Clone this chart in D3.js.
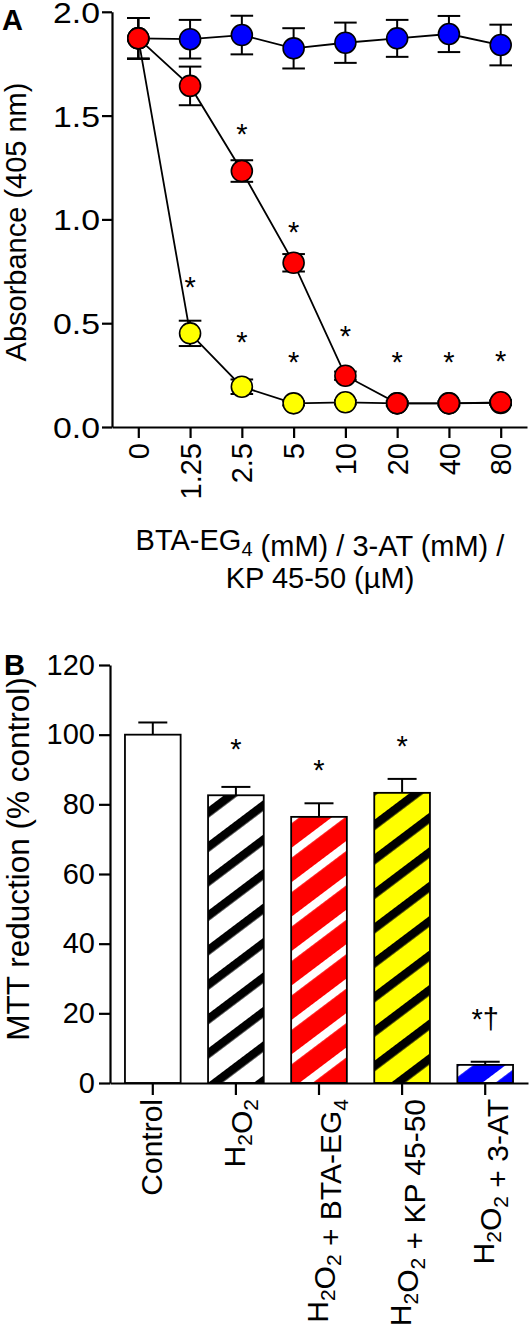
<!DOCTYPE html>
<html><head><meta charset="utf-8">
<script src="https://cdn.jsdelivr.net/npm/d3@7"></script>
<style>
body{margin:0;background:#fff}
svg{display:block}
text{font-family:"Liberation Sans", Arial, Helvetica, sans-serif; fill:#000}
</style>
</head><body>
<svg id="c" width="530" height="1330"></svg>
<script>
// ---------- Panel A data ----------
const concentrations = ["0","1.25","2.5","5","10","20","40","80"];
const blueMeans   = [1.872,1.868,1.888,1.824,1.851,1.872,1.893,1.840];
const blueErr     = [0.098,0.093,0.093,0.097,0.097,0.089,0.087,0.098];
const redMeans    = [1.872,1.643,1.233,0.791,0.247,0.114,0.114,0.119];
const redErr      = [0.098,0.093,0.052,0.042,0.020,0.010,0.010,0.010];
const yellowMeans = [1.872,0.451,0.194,0.114,0.119,0.114,0.114,0.116];
const yellowErr   = [0.098,0.061,0.035,0.010,0.010,0.010,0.010,0.010];
const aTicks = [0,0.5,1.0,1.5,2.0];
const aStarX = ["2.5","5","10","1.25","2.5","5","20","40","80"];
const aStarY = [1.446,0.973,0.475,0.708,0.443,0.347,0.347,0.347,0.355];

// ---------- Panel B data ----------
const groups   = ["Control","H_2O_2","H_2O_2 + BTA-EG_4","H_2O_2 + KP 45-50","H_2O_2 + 3-AT"];
const mttMeans = [100,82.6,76.4,83.3,5.2];
const mttErr   = [3.5,2.4,3.9,4.0,0.9];
const mttMarks = ["","*","*","*","*†"];
const mttMarkY = [null,97.9,91.9,98.9,20.5];
const bTicks   = [0,20,40,60,80,100,120];

const svg = d3.select("#c");
const FS = 29;

function rich(sel, str, subSize){
  const parts = str.split(/_(\d)/);
  parts.forEach((p,i)=>{
    if(p==="") return;
    if(i%2===1){
      sel.append("tspan").attr("font-size",subSize).attr("dy","0.32em").text(p);
      sel.append("tspan").attr("dy","-0.32em").text("");
    } else {
      sel.append("tspan").text(p);
    }
  });
}

// ---------- patterns ----------
const defs = svg.append("defs");
function stripe(id,bg,fg,period,thick){
  const p = defs.append("pattern").attr("id",id).attr("patternUnits","userSpaceOnUse")
    .attr("width",period).attr("height",period).attr("patternTransform","rotate(-37)");
  p.append("rect").attr("width",period).attr("height",period).attr("fill",bg);
  p.append("rect").attr("y",0).attr("width",period).attr("height",thick).attr("fill",fg);
}
stripe("pH","#ffffff","#000000",27.5,8.5);
stripe("pR","#ff0000","#ffffff",27.5,8);
stripe("pY","#ffff00","#000000",27.5,8.5);
stripe("pB","#0000ff","#ffffff",27.5,8);
const barFills = ["#ffffff","url(#pH)","url(#pR)","url(#pY)","url(#pB)"];

// ================= Panel A =================
const xA = d3.scalePoint().domain(concentrations).range([112,527]).padding(0.508);
const yA = d3.scaleLinear().domain([0,2]).range([427,11.8]);

const axYA = svg.append("g").attr("transform","translate(112,0)")
  .call(d3.axisLeft(yA).tickValues(aTicks).tickFormat(d3.format(".1f")).tickSize(10).tickSizeOuter(0).tickPadding(2));
const axXA = svg.append("g").attr("transform","translate(0,427)")
  .call(d3.axisBottom(xA).tickSize(11).tickSizeOuter(0));
axXA.selectAll(".tick text").attr("transform","rotate(-90)").attr("x",-16).attr("y",0)
  .attr("dy","0.35em").style("text-anchor","end");
[axYA,axXA].forEach(a=>{
  a.selectAll("text").attr("font-size",FS).attr("font-family",null);
  a.select(".domain").attr("stroke-width",2.2);
  a.selectAll(".tick line").attr("stroke-width",2.2);
});
axYA.selectAll(".tick text").attr("textLength",47).attr("lengthAdjust","spacingAndGlyphs").attr("dy","0.36em");

const series = [
  {means:yellowMeans, err:yellowErr, color:"#ffff00"},
  {means:blueMeans, err:blueErr, color:"#0000ff"},
  {means:redMeans, err:redErr, color:"#ff0000"}
];
const line = d3.line().x((d,i)=>xA(concentrations[i])).y(d=>yA(d));
series.forEach(s=>{
  svg.append("path").attr("d",line(s.means)).attr("fill","none").attr("stroke","#000").attr("stroke-width",1.8);
});
series.forEach(s=>{
  const g = svg.append("g").attr("stroke","#000").attr("stroke-width",2);
  s.means.forEach((m,i)=>{
    const x = xA(concentrations[i]);
    const y1 = yA(m+s.err[i]), y2 = yA(m-s.err[i]);
    g.append("line").attr("x1",x).attr("x2",x).attr("y1",y1).attr("y2",y2);
    g.append("line").attr("x1",x-11.3).attr("x2",x+11.3).attr("y1",y1).attr("y2",y1);
    g.append("line").attr("x1",x-11.3).attr("x2",x+11.3).attr("y1",y2).attr("y2",y2);
  });
});
series.forEach(s=>{
  svg.append("g").selectAll("circle").data(s.means).join("circle")
    .attr("cx",(d,i)=>xA(concentrations[i])).attr("cy",d=>yA(d)).attr("r",10.5)
    .attr("fill",s.color).attr("stroke","#000").attr("stroke-width",1.6);
});
svg.append("g").selectAll("text").data(aStarX).join("text")
  .attr("x",d=>xA(d)).attr("y",(d,i)=>yA(aStarY[i])).attr("dy","0.6em")
  .attr("text-anchor","middle").attr("font-size",FS).text("*");

// A labels
svg.append("text").attr("x",2).attr("y",30).attr("font-size",FS).attr("font-weight","bold").text("A");
svg.append("text").attr("transform","translate(26,222) rotate(-90)").attr("text-anchor","middle")
  .attr("font-size",FS).text("Absorbance (405 nm)");
const xl1 = svg.append("text").attr("x",320).attr("y",550).attr("text-anchor","middle").attr("font-size",FS);
rich(xl1,"BTA-EG_4 (mM) / 3-AT (mM) /",20);
svg.append("text").attr("x",320).attr("y",588).attr("text-anchor","middle").attr("font-size",FS).text("KP 45-50 (µM)");

// ================= Panel B =================
const xB = d3.scaleBand().domain(groups).range([110,528]).paddingInner(0.33).paddingOuter(0.18);
const yB = d3.scaleLinear().domain([0,120]).range([1083,665]);

const axYB = svg.append("g").attr("transform","translate(110,0)")
  .call(d3.axisLeft(yB).tickValues(bTicks).tickSize(11).tickSizeOuter(0).tickPadding(4));
axYB.selectAll("text").attr("font-size",FS).attr("font-family",null);

svg.append("g").selectAll("rect").data(mttMeans).join("rect")
  .attr("x",(d,i)=>xB(groups[i])).attr("width",xB.bandwidth())
  .attr("y",d=>yB(d)).attr("height",d=>yB(0)-yB(d))
  .attr("fill",(d,i)=>barFills[i]).attr("stroke","#000").attr("stroke-width",1.8);

const eg = svg.append("g").attr("stroke","#000").attr("stroke-width",2);
mttMeans.forEach((m,i)=>{
  const cx = xB(groups[i])+xB.bandwidth()/2;
  const yt = yB(m+mttErr[i]);
  eg.append("line").attr("x1",cx).attr("x2",cx).attr("y1",yB(m)).attr("y2",yt);
  eg.append("line").attr("x1",cx-14.5).attr("x2",cx+14.5).attr("y1",yt).attr("y2",yt);
});

const axXB = svg.append("g").attr("transform","translate(0,1083)")
  .call(d3.axisBottom(xB).tickSize(12).tickSizeOuter(0).tickFormat(""));
[axYB,axXB].forEach(a=>{
  a.select(".domain").attr("stroke-width",2.2);
  a.selectAll(".tick line").attr("stroke-width",2.2);
});
axXB.selectAll(".tick").each(function(d){
  const t = d3.select(this).append("text").attr("transform","rotate(-90)")
    .attr("x",-16).attr("y",0).attr("dy","0.3em").attr("text-anchor","end")
    .attr("font-size",30).attr("fill","#000");
  rich(t,d,21);
});

mttMarks.forEach((m,i)=>{
  if(!m) return;
  svg.append("text")
    .attr("x",xB(groups[i])+xB.bandwidth()/2).attr("y",yB(mttMarkY[i])).attr("dy","0.6em")
    .attr("text-anchor","middle").attr("font-size",FS).text(m);
});

svg.append("text").attr("x",4).attr("y",675).attr("font-size",FS).attr("font-weight","bold").text("B");
svg.append("text").attr("transform","translate(29,859) rotate(-90)").attr("text-anchor","middle")
  .attr("font-size",31.5).text("MTT reduction (% control)");
</script>
</body></html>
